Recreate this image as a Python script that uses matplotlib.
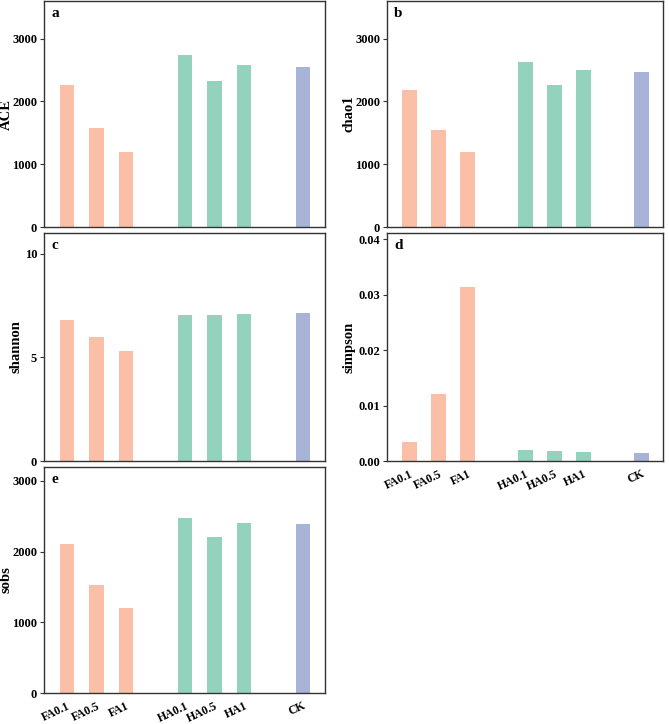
import matplotlib
matplotlib.use("Agg")
import matplotlib.pyplot as plt
import matplotlib.transforms as mtransforms

plt.rcParams['font.family'] = ['Liberation Serif', 'DejaVu Serif']
plt.rcParams['font.weight'] = 'bold'

# groups and bar positions (gap between treatment groups)
groups = ['FA0.1', 'FA0.5', 'FA1', 'HA0.1', 'HA0.5', 'HA1', 'CK']
xpos = [0, 1, 2, 4, 5, 6, 8]
bar_colors = ['#FBBFA7'] * 3 + ['#93D3BD'] * 3 + ['#A7B4D8']

ace = [2259, 1582, 1196, 2735, 2323, 2582, 2545]
chao1 = [2190, 1540, 1196, 2635, 2259, 2508, 2476]
shannon = [6.79, 5.98, 5.31, 7.05, 7.02, 7.11, 7.13]
simpson = [0.00337, 0.01203, 0.03128, 0.00192, 0.00180, 0.00156, 0.00144]
sobs = [2107, 1523, 1199, 2473, 2210, 2403, 2389]

W, H = 669, 724
fig = plt.figure(figsize=(W / 100, H / 100), dpi=100)


def make_ax(x0, x1, y0, y1):
    # pixel box -> figure fraction
    return fig.add_axes([x0 / W, 1 - y1 / H, (x1 - x0) / W, (y1 - y0) / H])


def draw(ax, vals, ylabel, letter, ylim, yticks, yfmt, show_x, label_x):
    ax.bar(xpos, vals, width=0.5, color=bar_colors)
    ax.set_xlim(-0.78, 8.75)
    ax.set_ylim(*ylim)
    ax.set_yticks(yticks)
    ax.set_yticklabels([yfmt.format(v) for v in yticks], fontsize=9, fontweight='bold')
    ax.set_ylabel(ylabel, fontsize=10.5, fontweight='bold')
    ax.yaxis.set_label_coords(label_x, 0.5)
    ax.text(0.025, 0.975, letter, transform=ax.transAxes, ha='left', va='top',
            fontsize=11, fontweight='bold')
    ax.set_xticks(xpos)
    if show_x:
        ax.set_xticklabels(groups, rotation=25, ha='right', va='top',
                           rotation_mode='anchor', fontsize=8.5, fontweight='bold')
        shift = mtransforms.ScaledTranslation(8 / 100, 0, fig.dpi_scale_trans)
        for lab in ax.get_xticklabels():
            lab.set_transform(lab.get_transform() + shift)
    else:
        ax.set_xticklabels([])
    ax.tick_params(axis='x', length=0, pad=5)
    ax.tick_params(axis='y', length=3, width=0.8, pad=2, color='#333333')
    for sp in ax.spines.values():
        sp.set_color('#333333')
        sp.set_linewidth(1.0)


ax_a = make_ax(44, 325, 1, 227)
ax_b = make_ax(387, 663, 1, 227)
ax_c = make_ax(44, 325, 233, 461)
ax_d = make_ax(387, 663, 233, 461)
ax_e = make_ax(44, 325, 467, 693)

draw(ax_a, ace, 'ACE', 'a', (0, 3600), [0, 1000, 2000, 3000], '{:.0f}', False, -0.112)
draw(ax_b, chao1, 'chao1', 'b', (0, 3600), [0, 1000, 2000, 3000], '{:.0f}', False, -0.114)
draw(ax_c, shannon, 'shannon', 'c', (0, 11.0), [0, 5, 10], '{:.0f}', False, -0.078)
draw(ax_d, simpson, 'simpson', 'd', (0, 0.0411), [0, 0.01, 0.02, 0.03, 0.04], '{:.2f}', True, -0.114)
draw(ax_e, sobs, 'sobs', 'e', (0, 3195), [0, 1000, 2000, 3000], '{:.0f}', True, -0.112)

fig.savefig('out.png', dpi=100)
